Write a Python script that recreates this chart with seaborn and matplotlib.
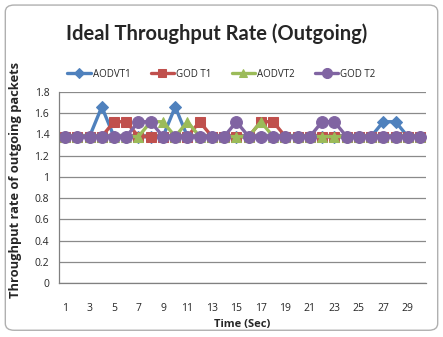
import matplotlib.pyplot as plt
import numpy as np
import pandas as pd
import seaborn as sns
from matplotlib.patches import FancyBboxPatch

# time axis, 1..30 sec
time_sec = list(range(1, 31))

aodv_t1 = [1.38, 1.38, 1.38, 1.66, 1.38, 1.38, 1.38, 1.38, 1.38, 1.66,
           1.38, 1.38, 1.38, 1.38, 1.38, 1.38, 1.38, 1.38, 1.38, 1.38,
           1.38, 1.38, 1.38, 1.38, 1.38, 1.38, 1.52, 1.52, 1.38, 1.38]
god_t1 = [1.38, 1.38, 1.38, 1.38, 1.52, 1.52, 1.38, 1.38, 1.38, 1.38,
          1.38, 1.52, 1.38, 1.38, 1.38, 1.38, 1.52, 1.52, 1.38, 1.38,
          1.38, 1.38, 1.38, 1.38, 1.38, 1.38, 1.38, 1.38, 1.38, 1.38]
aodv_t2 = [1.38, 1.38, 1.38, 1.38, 1.38, 1.38, 1.38, 1.52, 1.52, 1.38,
           1.52, 1.38, 1.38, 1.38, 1.38, 1.38, 1.52, 1.38, 1.38, 1.38,
           1.38, 1.38, 1.38, 1.38, 1.38, 1.38, 1.38, 1.38, 1.38, 1.38]
god_t2 = [1.38, 1.38, 1.38, 1.38, 1.38, 1.38, 1.52, 1.52, 1.38, 1.38,
          1.38, 1.38, 1.38, 1.38, 1.52, 1.38, 1.38, 1.38, 1.38, 1.38,
          1.38, 1.52, 1.52, 1.38, 1.38, 1.38, 1.38, 1.38, 1.38, 1.38]

series_names = ["AODVT1", "GODT1", "AODVT2", "GODT2"]
legend_labels = ["AODVT1", "GOD T1", "AODVT2", "GOD T2"]
colors = {"AODVT1": "#4F81BD", "GODT1": "#C0504D", "AODVT2": "#9BBB59", "GODT2": "#8064A2"}
markers = {"AODVT1": "D", "GODT1": "s", "AODVT2": "^", "GODT2": "o"}
sizes = {"AODVT1": 6.5, "GODT1": 6.5, "AODVT2": 7.5, "GODT2": 8.5}

df = pd.concat([
    pd.DataFrame({"time": time_sec, "rate": vals, "series": name})
    for name, vals in zip(series_names, [aodv_t1, god_t1, aodv_t2, god_t2])
])

sns.set_style("white")
plt.rcParams['font.family'] = ['Open Sans', 'DejaVu Sans']

fig = plt.figure(figsize=(4.43, 3.37), dpi=100)
ax = fig.add_axes([0.133, 0.160, 0.829, 0.567])

for name, lab in zip(series_names, legend_labels):
    sub = df[df["series"] == name]
    sns.lineplot(data=sub, x="time", y="rate", ax=ax, color=colors[name],
                 marker=markers[name], markersize=sizes[name],
                 markeredgecolor=colors[name], linewidth=2.4, label=lab)

ax.set_xlim(0.5, 30.5)
ax.set_ylim(0, 1.8)
ax.set_yticks(np.arange(0, 1.81, 0.2))
ax.set_yticklabels(["0", "0.2", "0.4", "0.6", "0.8", "1", "1.2", "1.4", "1.6", "1.8"], fontsize=7.5)
ax.set_xticks(range(1, 30, 2))
ax.set_xticklabels([str(i) for i in range(1, 30, 2)], fontsize=7.5)
ax.set_xticks(np.arange(0.5, 30.6, 1), minor=True)
ax.tick_params(axis="x", which="major", length=0, pad=14)
ax.tick_params(axis="x", which="minor", length=4, color="#808080", direction="out")
ax.tick_params(axis="y", length=4, color="#808080", direction="out", pad=3)
ax.grid(axis="y", color="#8a8a8a", linewidth=0.9)
ax.set_axisbelow(True)
for side in ["top", "right"]:
    ax.spines[side].set_visible(False)
for side in ["left", "bottom"]:
    ax.spines[side].set_color("#808080")
    ax.spines[side].set_linewidth(0.9)

ax.set_xlabel("Time (Sec)", fontsize=8, fontweight="bold", labelpad=4)
ax.set_ylabel("")
fig.text(0.035, 0.115, "Throughput rate of outgoing packets", rotation=90,
         fontsize=9.3, fontweight="bold", ha="center", va="bottom")

ax.legend_.remove()
handles, labels = ax.get_legend_handles_labels()
fig.legend(handles, labels, loc="center", bbox_to_anchor=(0.5, 0.78), ncol=4,
           frameon=False, fontsize=7, handlelength=2.4, columnspacing=2.1,
           handletextpad=0.2, markerscale=0.85)

fig.text(0.49, 0.9, "Ideal Throughput Rate (Outgoing)", ha="center", va="center",
         fontsize=14.5, fontweight="bold", family=["Lato", "DejaVu Sans"])

border = FancyBboxPatch((0.012, 0.02), 0.976, 0.965, boxstyle="round,pad=0,rounding_size=0.02",
                        transform=fig.transFigure, fill=False, edgecolor="#b0b0b0", linewidth=1.0)
fig.patches.append(border)

fig.savefig("out.png", dpi=100)
